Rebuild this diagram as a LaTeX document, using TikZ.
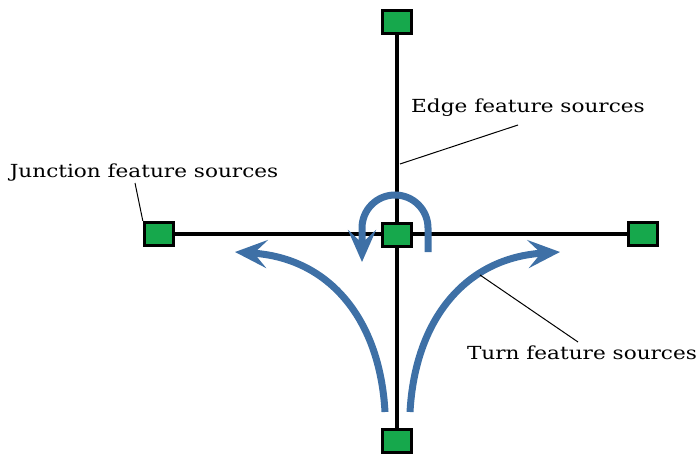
\documentclass[tikz,border=0pt]{standalone}
\usepackage{fontspec}
\setmainfont{DejaVu Serif}
\usetikzlibrary{arrows.meta,backgrounds}
\definecolor{sqgreen}{RGB}{22,168,76}
\definecolor{arrblue}{RGB}{62,112,166}
\tikzset{
  sq/.style={draw=black, line width=3.4pt, fill=sqgreen, minimum width=29pt, minimum height=23pt, inner sep=0pt},
  road/.style={line width=4.8pt, black},
  flow/.style={line width=7pt, arrblue, -{Stealth[length=32pt,width=28pt,inset=13pt]}},
  lbl/.style={font=\fontsize{18}{20}\selectfont, inner sep=1pt, text=black},
  leader/.style={line width=1pt, black}
}
\newcommand{\wide}[1]{\scalebox{1.2}[1]{#1}}
\begin{document}
\begin{tikzpicture}[x=1pt,y=-1pt]
\useasboundingbox (0,0) rectangle (700,462);
% squares
\node[sq] (top) at (397,22) {};
\node[sq] (left) at (159,234) {};
\node[sq] (ctr) at (397,235) {};
\node[sq] (right) at (643,234) {};
\node[sq] (bot) at (397,441) {};
\begin{scope}[on background layer]
  \draw[road] (top) -- (bot);
  \draw[road] (left) -- (right);
\end{scope}
% U-turn
\draw[flow] (428,252) -- (428,228) arc[start angle=0, end angle=-180, radius=33] -- (362,262);
% turn arrows
\draw[flow] (385,412) .. controls (380,320) and (330,258) .. (235,252);
\draw[flow] (410,412) .. controls (415,320) and (465,258) .. (560,252);
% labels
\node[lbl] (jl) at (144,173) {\wide{Junction feature sources}};
\node[lbl] (el) at (528,108) {\wide{Edge feature sources}};
\node[lbl] (tl) at (582,353) {\wide{Turn feature sources}};
\coordinate (jl0) at (135,183);
\coordinate (el0) at (518,125);
\coordinate (ep) at (400,164);
\coordinate (tp) at (480,275);
\coordinate (tl0) at (578,342);
\draw[leader] (jl0) -- (left.north west);
\draw[leader] (el0) -- (ep);
\draw[leader] (tp) -- (tl0);
\end{tikzpicture}
\end{document}
